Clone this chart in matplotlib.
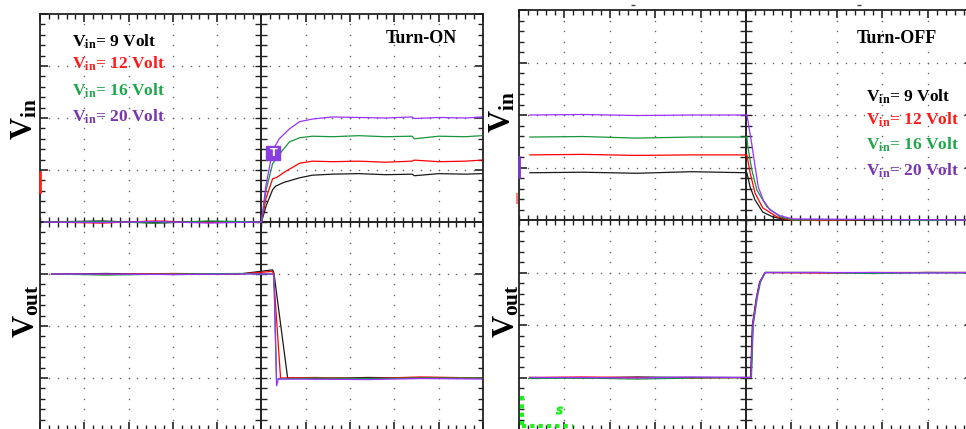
import numpy as np
import matplotlib

matplotlib.use("Agg")
import matplotlib.pyplot as plt

plt.rcParams["mathtext.fontset"] = "custom"
plt.rcParams["mathtext.rm"] = "Liberation Serif"
plt.rcParams["mathtext.bf"] = "Liberation Serif:bold"
plt.rcParams["font.family"] = ["Liberation Serif", "DejaVu Serif"]

# --- data, in scope divisions (x: -5..5, y: -4..4) ---
legend_labels = ["9 Volt", "12 Volt", "16 Volt", "20 Volt"]
trace_colors = ["#1a1a1a", "#ff0000", "#17963a", "#9933ff"]
text_colors = ["#000000", "#ff1a1a", "#1fa64a", "#7a35b0"]

# Turn-ON, input voltage
on_vin_x = [
    [-4.9, -3.6, -2.4, -1.2, 0.0, 0.1, 0.25, 0.32, 0.5, 0.86, 1.15, 1.6, 2.2, 2.8, 3.4, 3.45, 4.0, 4.6, 4.97],
    [-4.9, -3.6, -2.4, -1.2, 0.0, 0.1, 0.25, 0.35, 0.52, 0.86, 1.15, 1.6, 2.2, 2.8, 3.4, 3.45, 4.0, 4.6, 4.97],
    [-4.9, -3.6, -2.4, -1.2, 0.0, 0.1, 0.25, 0.4, 0.63, 0.86, 1.15, 1.6, 2.2, 2.8, 3.4, 3.45, 4.0, 4.6, 4.97],
    [-4.9, -3.6, -2.4, -1.2, 0.0, 0.1, 0.25, 0.4, 0.63, 0.86, 1.15, 1.6, 2.2, 2.8, 3.4, 3.45, 4.0, 4.6, 4.97],
]
on_vin_y = [
    [0.0, 0.02, -0.02, 0.01, 0.0, 0.3, 0.62, 0.69, 0.76, 0.85, 0.9, 0.92, 0.93, 0.91, 0.92, 0.89, 0.93, 0.92, 0.93],
    [0.0, -0.02, 0.02, -0.01, 0.0, 0.45, 0.83, 0.86, 0.96, 1.13, 1.17, 1.16, 1.17, 1.15, 1.17, 1.19, 1.16, 1.17, 1.19],
    [0.0, 0.01, -0.02, 0.02, 0.0, 0.6, 1.12, 1.3, 1.54, 1.62, 1.65, 1.64, 1.66, 1.64, 1.65, 1.6, 1.65, 1.64, 1.66],
    [0.0, -0.01, 0.01, -0.02, 0.0, 0.7, 1.37, 1.6, 1.79, 1.93, 1.98, 2.02, 2.01, 2.0, 2.02, 1.99, 2.01, 2.0, 2.02],
]

# Turn-ON, output voltage
on_vout_x = [
    [-4.74, -3.5, -2.0, -0.5, 0.25, 0.28, 0.59, 1.2, 2.4, 3.6, 4.97],
    [-4.74, -3.5, -2.0, -0.5, 0.25, 0.27, 0.43, 1.2, 2.4, 3.6, 4.97],
    [-4.74, -3.5, -2.0, -0.5, 0.25, 0.28, 0.34, 1.2, 2.4, 3.6, 4.97],
    [-4.74, -3.5, -2.0, -0.5, 0.25, 0.28, 0.34, 0.38, 2.4, 3.6, 4.97],
]
on_vout_y = [
    [-1.0, -0.99, -1.01, -1.0, -0.92, -0.98, -3.0, -3.01, -2.99, -3.0, -3.0],
    [-1.0, -1.01, -0.99, -1.0, -0.95, -1.0, -3.0, -2.99, -3.01, -2.98, -3.0],
    [-1.0, -1.02, -1.0, -0.99, -1.0, -1.02, -3.02, -3.0, -3.01, -3.0, -3.0],
    [-1.0, -1.0, -1.01, -1.0, -1.0, -1.03, -3.15, -3.02, -3.03, -3.01, -3.02],
]

# Turn-OFF, input voltage
off_vin_x = [
    [-4.76, -3.6, -2.4, -1.2, 0.02, 0.09, 0.2, 0.37, 0.59, 0.9, 1.6, 2.8, 4.0, 4.95],
    [-4.76, -3.6, -2.4, -1.2, 0.02, 0.09, 0.2, 0.37, 0.68, 0.97, 1.6, 2.8, 4.0, 4.95],
    [-4.76, -3.6, -2.4, -1.2, 0.02, 0.04, 0.13, 0.24, 0.46, 0.75, 1.04, 2.8, 4.0, 4.95],
    [-4.76, -3.6, -2.4, -1.2, 0.02, 0.05, 0.125, 0.2, 0.27, 0.38, 0.53, 0.75, 1.04, 4.95],
]
off_vin_y = [
    [0.9, 0.91, 0.89, 0.92, 0.9, 0.63, 0.38, 0.15, 0.06, 0.0, 0.01, -0.01, 0.0, 0.0],
    [1.24, 1.25, 1.23, 1.24, 1.24, 0.9, 0.51, 0.23, 0.06, 0.0, -0.01, 0.01, 0.0, 0.0],
    [1.58, 1.59, 1.56, 1.58, 1.58, 1.39, 0.95, 0.57, 0.25, 0.06, 0.0, 0.01, -0.01, 0.0],
    [2.0, 2.01, 1.99, 2.0, 2.0, 1.85, 1.46, 1.02, 0.63, 0.38, 0.19, 0.08, 0.02, 0.0],
]

# Turn-OFF, output voltage
off_vout_x = [
    [-4.76, -3.6, -2.4, -1.2, 0.1, 0.12, 0.14, 0.23, 0.3, 0.42, 1.6, 2.8, 4.0, 4.95],
    [-4.76, -3.6, -2.4, -1.2, 0.11, 0.13, 0.15, 0.24, 0.31, 0.42, 1.6, 2.8, 4.0, 4.95],
    [-4.76, -3.6, -2.4, -1.2, 0.12, 0.14, 0.16, 0.25, 0.32, 0.43, 1.6, 2.8, 4.0, 4.95],
    [-4.76, -3.6, -2.4, -1.2, 0.11, 0.13, 0.15, 0.24, 0.31, 0.42, 1.6, 2.8, 4.0, 4.95],
]
off_vout_y = [
    [-3.0, -3.01, -2.99, -3.0, -3.0, -2.52, -2.0, -1.47, -1.18, -1.0, -1.0, -1.01, -1.0, -1.0],
    [-3.0, -2.99, -3.0, -3.01, -3.0, -2.52, -2.0, -1.47, -1.18, -1.0, -1.01, -1.0, -1.0, -1.0],
    [-3.02, -3.01, -3.03, -3.01, -3.0, -2.52, -2.0, -1.47, -1.18, -1.0, -1.0, -1.02, -1.0, -1.01],
    [-3.0, -3.0, -3.01, -2.99, -3.0, -2.52, -2.0, -1.47, -1.18, -1.0, -1.0, -1.0, -1.01, -1.0],
]

W, H = 966, 429


def scope_axes(fig, left_px, top_px, width_px, height_px):
    ax = fig.add_axes([left_px / W, 1 - (top_px + height_px) / H, width_px / W, height_px / H])
    ax.set_xlim(-5, 5)
    ax.set_ylim(-4, 4)
    ax.set_xticks(np.arange(-5, 6, 1))
    ax.set_yticks(np.arange(-4, 5, 1))
    ax.set_xticks(np.arange(-5, 5.01, 0.2), minor=True)
    ax.set_yticks(np.arange(-4, 4.01, 0.2), minor=True)
    ax.tick_params(which="both", direction="in", top=True, right=True,
                   labelbottom=False, labelleft=False, color="#222222")
    ax.tick_params(which="major", length=6, width=1.2)
    ax.tick_params(which="minor", length=3.5, width=1.0)
    for sp in ax.spines.values():
        sp.set_linewidth(1.3)
        sp.set_color("#222222")

    # dotted graticule
    minor_x = np.arange(-4.8, 4.81, 0.2)
    minor_y = np.arange(-3.8, 3.81, 0.2)
    for gx in [-4, -3, -2, -1, 1, 2, 3, 4]:
        ax.scatter(np.full_like(minor_y, gx), minor_y, s=1.2, color="#666666", lw=0, zorder=1)
    for gy in [-3, -2, -1, 1, 2, 3]:
        ax.scatter(minor_x, np.full_like(minor_x, gy), s=1.2, color="#666666", lw=0, zorder=1)

    # centre cross with its own ticks
    ax.axhline(0, color="#222222", lw=1.4, zorder=2)
    ax.axvline(0, color="#222222", lw=1.4, zorder=2)
    cx = np.arange(-5, 5.01, 0.2)
    cy = np.arange(-4, 4.01, 0.2)
    ax.plot(cx, np.zeros_like(cx), ls="none", marker="|", ms=7, mew=1.0, color="#222222", zorder=2)
    ax.plot(np.zeros_like(cy), cy, ls="none", marker="_", ms=8, mew=1.0, color="#222222", zorder=2)
    return ax


fig = plt.figure(figsize=(W / 100, H / 100), dpi=100)
fig.patch.set_facecolor("white")

ax_on = scope_axes(fig, 40, 14, 443, 416)
ax_off = scope_axes(fig, 519, 10, 454, 420)

for i in range(4):
    ax_on.plot(on_vin_x[i], on_vin_y[i], color=trace_colors[i], lw=0.9, zorder=3)
    ax_on.plot(on_vout_x[i], on_vout_y[i], color=trace_colors[i], lw=0.9, zorder=3)
    ax_off.plot(off_vin_x[i], off_vin_y[i], color=trace_colors[i], lw=0.9, zorder=3)
    ax_off.plot(off_vout_x[i], off_vout_y[i], color=trace_colors[i], lw=0.9, zorder=3)

# trigger marker
ax_on.plot([0.27], [1.33], marker="s", ms=10, color="#8a3de0", zorder=4)
ax_on.text(0.27, 1.33, "T", color="white", fontsize=8, fontweight="bold",
           family="DejaVu Sans", ha="center", va="center", zorder=5)

# channel offset marks on the left border
ax_on.plot([-5, -5], [0.58, 0.96], color="#ff2020", lw=2, clip_on=False, zorder=4)
ax_off.plot([-5, -5], [0.82, 1.2], color="#7a35d0", lw=2, clip_on=False, zorder=4)
ax_off.plot([-5.05, -5.05], [0.32, 0.5], color="#ff8080", lw=1.5, clip_on=False, zorder=4)

# small position marks above the Turn-OFF screen
ax_off.plot([-2.49, 2.49], [4.1, 4.1], ls="none", marker="_", ms=3, color="#444444", clip_on=False)

# green screen artefact in the Turn-OFF panel
ax_off.plot([-4.93, -4.93], [-3.35, -3.98], color="#22ee22", lw=3, ls=(0, (1, 1)), zorder=3)
ax_off.plot([-4.93, -3.8], [-3.92, -3.92], color="#22ee22", lw=3, ls=(0, (1, 1)), zorder=3)
ax_off.plot([-4.12], [-3.62], marker="$s$", ms=5, color="#22ee22", zorder=3)


def fx(px):
    return px / W


def fy(py):
    return 1 - py / H


big = dict(fontsize=22, rotation=90, ha="center", va="center", color="black")
fig.text(fx(25), fy(119), r"$\mathbf{V_{in}}$", **big)
fig.text(fx(27), fy(311), r"$\mathbf{V_{out}}$", **big)
fig.text(fx(503), fy(112), r"$\mathbf{V_{in}}$", **big)
fig.text(fx(507), fy(311), r"$\mathbf{V_{out}}$", **big)

fig.text(fx(386), fy(43), "Turn-ON", fontsize=13, fontweight="bold", va="baseline")
fig.text(fx(857), fy(43), "Turn-OFF", fontsize=13, fontweight="bold", va="baseline")

on_rows = [47, 69, 96, 122]
off_rows = [102, 125, 150, 176]
for i, lab in enumerate(legend_labels):
    s = r"$\mathbf{V_{in}}$" + "= " + lab
    fig.text(fx(72), fy(on_rows[i]), s, fontsize=12.5, fontweight="bold",
             color=text_colors[i], va="baseline")
    fig.text(fx(866), fy(off_rows[i]), s, fontsize=12.5, fontweight="bold",
             color=text_colors[i], va="baseline")

fig.savefig("out.png", dpi=100, facecolor="white")
